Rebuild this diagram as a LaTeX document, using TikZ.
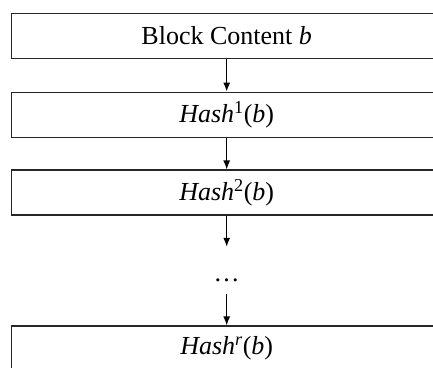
\documentclass[tikz,border=0pt]{standalone}
\usepackage{fontspec}
\setmainfont{Liberation Serif}
\usetikzlibrary{arrows.meta}
\begin{document}
\begin{tikzpicture}[x=1pt,y=-1pt,
  hbox/.style={draw=black!85, line width=1.2pt, rectangle, minimum width=430.5pt, minimum height=45pt, inner sep=0pt, font=\fontsize{26}{31}\selectfont},
  arr/.style={draw=black, line width=1.2pt, -{Latex[length=9pt,width=7pt]}},
  dotsbox/.style={inner sep=0pt, minimum height=47pt, text height=0pt, text depth=0pt, font=\fontsize{26}{31}\selectfont}]
\useasboundingbox (0,0) rectangle (433,367);
\clip (0,0) rectangle (433,367);
\node[hbox] (b1) at (226.7,35.7) {Block Content \textit{b}};
\node[hbox] (b2) at (226.7,114.7) {\textit{Hash}\textsuperscript{1}(\textit{b})};
\node[hbox] (b3) at (226.7,192.5) {\textit{Hash}\textsuperscript{2}(\textit{b})};
\node[dotsbox] (d) at (226.7,270.5) {\raisebox{-11pt}{…}};
\node[hbox] (b4) at (226.7,348.5) {\textit{Hash}\textsuperscript{\textit{r}}(\textit{b})};
\draw[arr] (b1) -- (b2);
\draw[arr] (b2) -- (b3);
\draw[arr] (b3) -- (d);
\draw[arr] (d) -- (b4);
\end{tikzpicture}
\end{document}
